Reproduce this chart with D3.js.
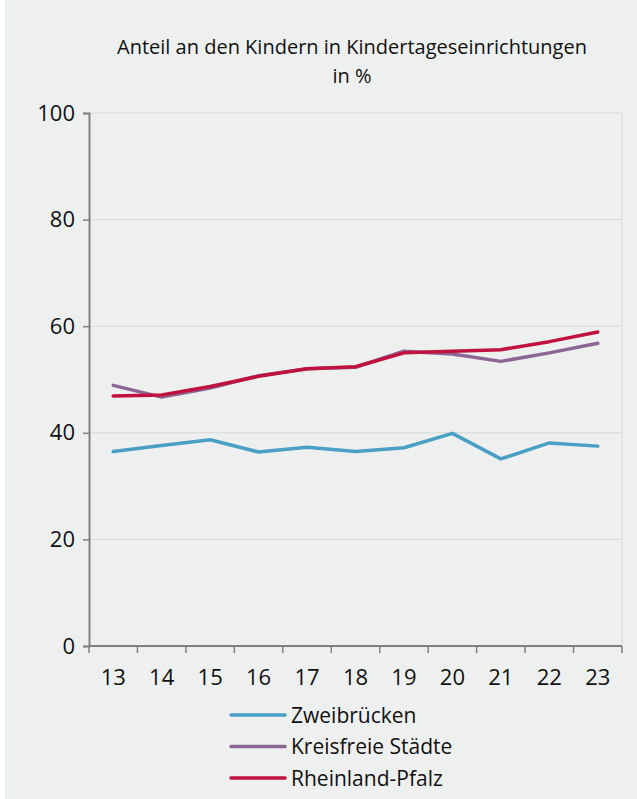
<!DOCTYPE html>
<html>
<head>
<meta charset="utf-8">
<script src="https://cdn.jsdelivr.net/npm/d3@7"></script>
<style>
  html, body { margin: 0; padding: 0; background: #fff; }
  svg { display: block; font-family: "Open Sans", "Noto Sans", sans-serif; }
</style>
</head>
<body>
<div id="chart"></div>
<script>
const years = ["13", "14", "15", "16", "17", "18", "19", "20", "21", "22", "23"];
const zweibruecken = [36.5, 37.6, 38.7, 36.4, 37.3, 36.5, 37.2, 39.9, 35.1, 38.1, 37.5];
const kreisfreie = [48.9, 46.7, 48.4, 50.7, 52.0, 52.3, 55.3, 54.8, 53.4, 55.0, 56.8];
const rlp = [46.9, 47.1, 48.7, 50.6, 52.0, 52.4, 55.0, 55.3, 55.6, 57.1, 58.9];
const yTicks = [0, 20, 40, 60, 80, 100];

const series = [
  {name: "Zweibrücken", values: zweibruecken, color: "#4a9fc4"},
  {name: "Kreisfreie Städte", values: kreisfreie, color: "#8d6794"},
  {name: "Rheinland-Pfalz", values: rlp, color: "#c1123f"}
];

const W = 637, H = 799;
const svg = d3.select('#chart')
  .append('svg')
    .attr('width', W)
    .attr('height', H);

svg.append('rect')
  .attr('x', 5).attr('y', 0)
  .attr('width', W - 5).attr('height', H)
  .attr('fill', '#eef0ef');

const margin = {top: 113, right: 15, bottom: 153, left: 89};
const graphWidth = W - margin.left - margin.right;
const graphHeight = H - margin.top - margin.bottom;

const graph = svg.append('g')
  .attr('transform', `translate(${margin.left},${margin.top})`);

// title
svg.append('text')
  .attr('x', 352).attr('y', 54)
  .attr('text-anchor', 'middle')
  .attr('font-size', 20)
  .attr('fill', '#111')
  .text('Anteil an den Kindern in Kindertageseinrichtungen');
svg.append('text')
  .attr('x', 352).attr('y', 83)
  .attr('text-anchor', 'middle')
  .attr('font-size', 20)
  .attr('fill', '#111')
  .text('in %');

const x = d3.scaleBand()
  .domain(years)
  .range([0, graphWidth]);

const y = d3.scaleLinear()
  .domain([0, 100])
  .range([graphHeight, 0]);

// gridlines
graph.append('g')
  .selectAll('line')
  .data(yTicks.filter(d => d > 0))
  .enter()
  .append('line')
    .attr('x1', 0).attr('x2', graphWidth)
    .attr('y1', d => y(d)).attr('y2', d => y(d))
    .attr('stroke', '#d6d8d7')
    .attr('stroke-width', 1);

graph.append('line')
  .attr('x1', graphWidth).attr('x2', graphWidth)
  .attr('y1', 0).attr('y2', graphHeight)
  .attr('stroke', '#d6d8d7');

// axes
const yAxis = d3.axisLeft(y).tickValues(yTicks).tickSize(6).tickPadding(8);
const yAxisGroup = graph.append('g').call(yAxis);
yAxisGroup.select('.domain').attr('stroke', '#808080').attr('stroke-width', 2);
yAxisGroup.selectAll('.tick line').attr('stroke', '#808080').attr('stroke-width', 1.5);
yAxisGroup.selectAll('.tick text').attr('font-size', 22).attr('fill', '#111')
  .attr('font-family', '"Open Sans", sans-serif');

const xAxisGroup = graph.append('g')
  .attr('transform', `translate(0,${graphHeight})`);
xAxisGroup.append('line')
  .attr('x1', 0).attr('x2', graphWidth)
  .attr('stroke', '#808080').attr('stroke-width', 2);
xAxisGroup.selectAll('.xt')
  .data(years.concat(['end']))
  .enter()
  .append('line')
    .attr('x1', (d, i) => i < years.length ? x(d) : graphWidth)
    .attr('x2', (d, i) => i < years.length ? x(d) : graphWidth)
    .attr('y1', 0).attr('y2', 7)
    .attr('stroke', '#808080').attr('stroke-width', 1.5);
xAxisGroup.selectAll('.xl')
  .data(years)
  .enter()
  .append('text')
    .attr('x', d => x(d) + x.bandwidth() / 2)
    .attr('y', 39)
    .attr('text-anchor', 'middle')
    .attr('font-size', 22)
    .attr('fill', '#111')
    .text(d => d);

// lines
const line = d3.line()
  .x((d, i) => x(years[i]) + x.bandwidth() / 2)
  .y(d => y(d));

graph.selectAll('.series')
  .data(series)
  .enter()
  .append('path')
    .attr('d', d => line(d.values))
    .attr('fill', 'none')
    .attr('stroke', d => d.color)
    .attr('stroke-width', 3.5)
    .attr('stroke-linejoin', 'round')
    .attr('stroke-linecap', 'round');

// legend
const legend = svg.append('g')
  .attr('transform', 'translate(231,715)');
const item = legend.selectAll('g')
  .data(series)
  .enter()
  .append('g')
    .attr('transform', (d, i) => `translate(0,${i * 31.5})`);
item.append('line')
  .attr('x1', 0).attr('x2', 54)
  .attr('stroke', d => d.color)
  .attr('stroke-width', 3.5)
  .attr('stroke-linecap', 'round');
item.append('text')
  .attr('x', 60).attr('y', 7.5)
  .attr('font-size', 21)
  .attr('fill', '#111')
  .text(d => d.name);
</script>
</body>
</html>
